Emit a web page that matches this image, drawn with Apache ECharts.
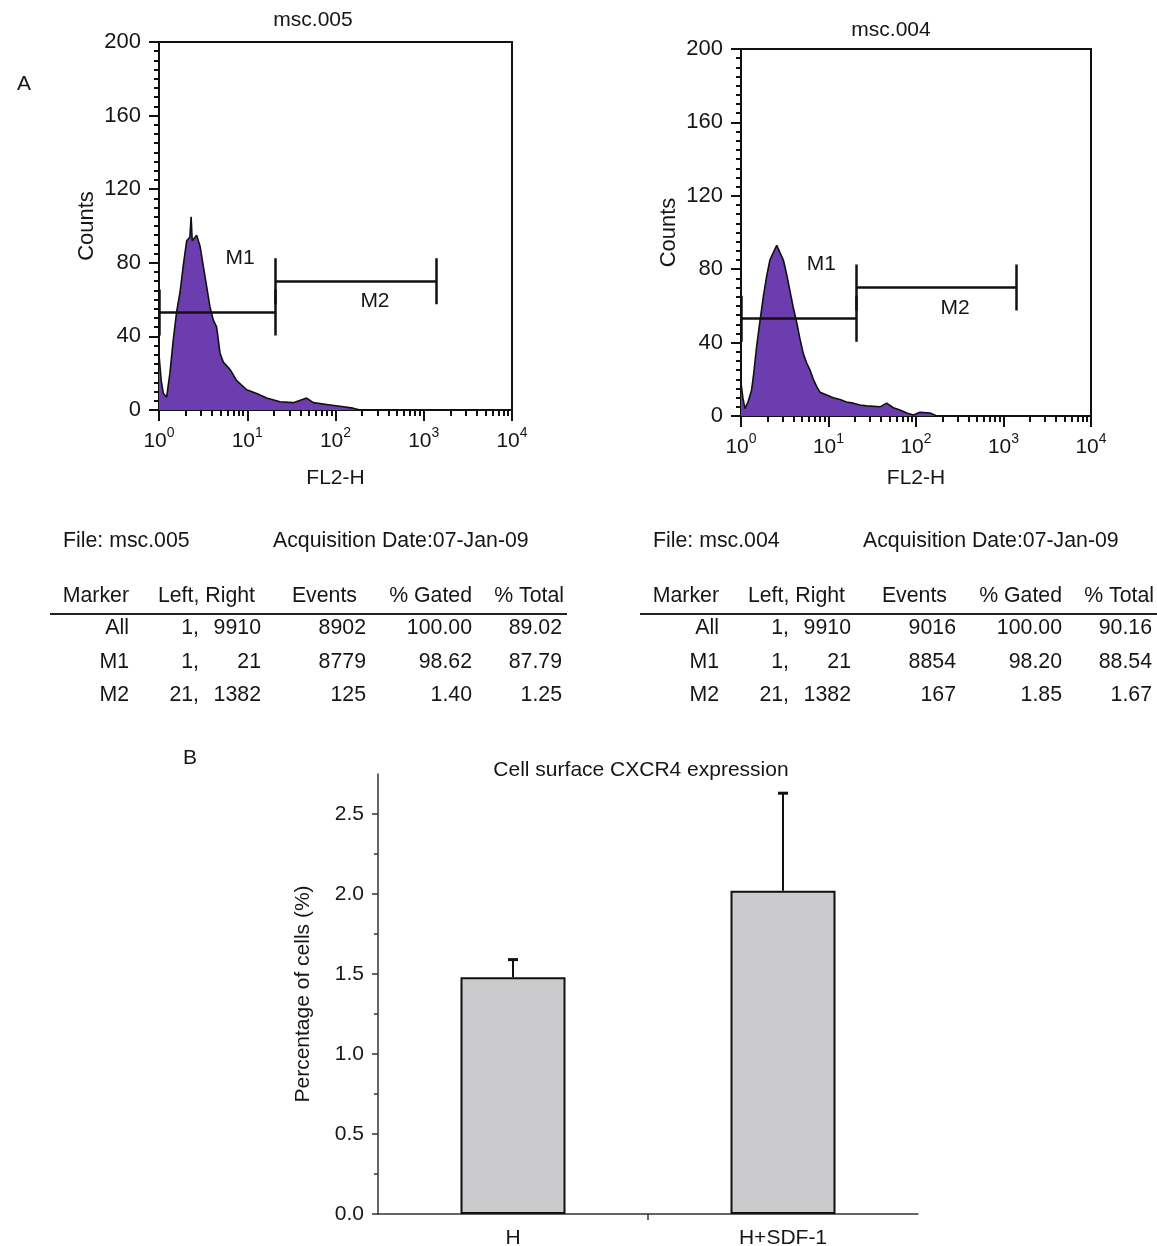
<!DOCTYPE html>
<html><head><meta charset="utf-8">
<script src="https://cdn.jsdelivr.net/npm/echarts@6/dist/echarts.min.js"></script>
<style>html,body{margin:0;padding:0;background:#fff}#c{width:1157px;height:1246px}</style>
</head><body><div id="c"></div>
<script>
// ---------- DATA ----------
// Histogram msc.005 (FL2-H channel, counts)
const fl2A    = [1.00,1.06,1.12,1.22,1.33,1.45,1.58,1.73,1.89,2.06,2.24,2.31,2.38,2.45,2.67,2.92,3.18,3.47,3.78,4.12,4.50,4.91,5.36,6.38,7.59,9.86,12.8,16.6,23.5,33.3,47.1,56.1,79.4,112,158,191];
const countsA = [30,16,9,7,20,38,53,64,79,92,94,105,92,93,95,89,78,67,56,49,45,31,26,22,16,11,9,6.5,4.5,4,6.5,4,3,2,1,0];
// Histogram msc.004
const fl2B    = [1.00,1.05,1.11,1.21,1.32,1.38,1.51,1.65,1.80,1.96,2.14,2.34,2.56,2.79,3.05,3.33,3.63,3.96,4.33,4.72,5.15,5.62,6.15,6.71,7.33,8.0,9.53,11.35,13.5,16.1,19.2,22.9,27.3,38.8,46.2,55.1,65.6,78.3,93.3,111,145,173];
const countsB = [18,10,4,8,14,21,38,52,65,76,85,89,93,89,85,77,68,59,51,42,34,29,25,20,16,13,11.4,10,9,7.6,7,6,5.5,5,7,4.5,3.3,1.6,0.5,2,1.6,0];
// Markers (gates)
const markerNames  = ['M1','M2'];
const markerLeft   = [1, 21];
const markerRight  = [21, 1382];
const markerLevel  = [53, 70];
const markerHalf   = 12.5;
const markerLabelX = [8.3, 280];
const markerLabelY = [82.5, 59];
// Axis ticks
const countTicks = [0,40,80,120,160,200];
const fl2Ticks   = [1,10,100,1000,10000];
const fl2Minor   = [2,3,4,5,6,7,8,9,20,30,40,50,60,70,80,90,200,300,400,500,600,700,800,900,2000,3000,4000,5000,6000,7000,8000,9000];
// Tables
const panelTitles  = ['msc.005','msc.004'];
const acqDate      = '07-Jan-09';
const tableHeader  = ['Marker','Left, Right','Events','% Gated','% Total'];
const tableMarkers = ['All','M1','M2'];
const tableLeft    = [1,1,21];
const tableRight   = [9910,21,1382];
const eventsA = [8902,8779,125], gatedA = ['100.00','98.62','1.40'], totalA = ['89.02','87.79','1.25'];
const eventsB = [9016,8854,167], gatedB = ['100.00','98.20','1.85'], totalB = ['90.16','88.54','1.67'];
// Bar chart
const barCategories = ['H','H+SDF-1'];
const barValues     = [1.48, 2.02];
const barErrors     = [0.11, 0.61];
const barTicks      = [0,0.5,1,1.5,2,2.5];
const barMinorTicks = [0.25,0.75,1.25,1.75,2.25];

// ---------- CHART ----------
const FF = 'Liberation Sans, Arial, sans-serif';
const TXT = '#161616';
const PURPLE = '#6c3dae';

function histXAxes(grid){
  return [{
    type:'log', logBase:10, gridIndex:grid, min:1, max:10000, position:'bottom',
    name:'FL2-H', nameLocation:'middle', nameGap: grid===0?58:52,
    nameTextStyle:{fontFamily:FF,fontSize:21,color:TXT},
    axisLine:{show:true,lineStyle:{color:'#111',width:2}},
    axisTick:{show:true,inside:false,length:11,lineStyle:{color:'#111',width:2},customValues:fl2Ticks},
    axisLabel:{show:true,margin:16,customValues:fl2Ticks,
      formatter:v=>'{b|10}{s|'+Math.round(Math.log10(v))+'}',
      rich:{b:{fontFamily:FF,fontSize:21,color:TXT,lineHeight:26,verticalAlign:'bottom'},
            s:{fontFamily:FF,fontSize:14,color:TXT,lineHeight:18,verticalAlign:'top'}}},
    splitLine:{show:false}, minorTick:{show:false}
  },{
    type:'log', logBase:10, gridIndex:grid, min:1, max:10000, position:'bottom',
    axisLine:{show:false}, axisLabel:{show:false}, splitLine:{show:false},
    axisTick:{show:true,inside:false,length:6,lineStyle:{color:'#111',width:2},customValues:fl2Minor}
  }];
}
function histYAxis(grid){
  return {
    type:'value', gridIndex:grid, min:0, max:200, interval:40,
    name:'Counts', nameLocation:'middle', nameGap:61, nameRotate:90,
    nameTextStyle:{fontFamily:FF,fontSize:22,color:TXT},
    axisLine:{show:true,lineStyle:{color:'#111',width:2}},
    axisTick:{show:true,inside:false,length:10,lineStyle:{color:'#111',width:2}},
    minorTick:{show:true,splitNumber:8,length:5,lineStyle:{color:'#111',width:2}},
    axisLabel:{fontFamily:FF,fontSize:22,color:TXT,margin:18},
    splitLine:{show:false}
  };
}
function markerLines(){
  const d=[];
  for(let k=0;k<markerNames.length;k++){
    const L=markerLeft[k],R=markerRight[k],h=markerLevel[k];
    d.push({coords:[[L,h],[R,h]]});
    d.push({coords:[[L,h-markerHalf],[L,h+markerHalf]]});
    d.push({coords:[[R,h-markerHalf],[R,h+markerHalf]]});
  }
  return d;
}
function histSeries(xi,yi,fl2,counts){
  return [{
    type:'line', xAxisIndex:xi, yAxisIndex:yi, data:fl2.map((x,i)=>[x,counts[i]]),
    showSymbol:false, symbol:'none', lineStyle:{color:'#111',width:1.6},
    areaStyle:{color:PURPLE,opacity:1}, silent:true, z:2
  },{
    type:'lines', coordinateSystem:'cartesian2d', xAxisIndex:xi, yAxisIndex:yi,
    data:markerLines(), lineStyle:{color:'#111',width:2.5,opacity:1}, silent:true, z:3
  },{
    type:'scatter', xAxisIndex:xi, yAxisIndex:yi, symbolSize:1, itemStyle:{opacity:0},
    data:markerNames.map((n,k)=>[markerLabelX[k],markerLabelY[k],n]),
    label:{show:true,position:'inside',formatter:p=>p.data[2],fontFamily:FF,fontSize:21,
      color:TXT,opacity:1,textBorderWidth:0},
    silent:true, z:4
  }];
}

// graphic texts
const graphics=[];
function txt(x,y,s,align,size){
  graphics.push({type:'text',x:x,y:y,silent:true,style:{text:String(s),fill:TXT,
    font:(size||21)+'px '+FF,textAlign:align||'left',align:align||'left',
    textVerticalAlign:'middle',verticalAlign:'middle'}});
}
txt(17,84,'A','left',21);
txt(183,758,'B','left',21);
txt(313,20,panelTitles[0],'center',21);
txt(891,30,panelTitles[1],'center',21);

const TF = 21.3;
function table(off,file,events,gated,total){
  txt(63+off,541,'File: '+file,'left',TF);
  txt(273+off,541,'Acquisition Date:'+acqDate,'left',TF);
  const hx=[129,255,357,472,564];
  tableHeader.forEach((h,i)=>txt(hx[i]+off,596,h,'right',TF));
  graphics.push({type:'line',silent:true,shape:{x1:50+off,y1:614,x2:567+off,y2:614},style:{stroke:'#222',lineWidth:2}});
  const ry=[628,662,695];
  tableMarkers.forEach((m,r)=>{
    txt(129+off,ry[r],m,'right',TF);
    txt(199+off,ry[r],tableLeft[r]+',','right',TF);
    txt(261+off,ry[r],tableRight[r],'right',TF);
    txt(366+off,ry[r],events[r],'right',TF);
    txt(472+off,ry[r],gated[r],'right',TF);
    txt(562+off,ry[r],total[r],'right',TF);
  });
}
table(0,panelTitles[0],eventsA,gatedA,totalA);
table(590,panelTitles[1],eventsB,gatedB,totalB);

const chart = echarts.init(document.getElementById('c'),null,{renderer:'canvas'});
const xA = histXAxes(0), xB = histXAxes(1);
chart.setOption({
  animation:false,
  backgroundColor:'#fff',
  textStyle:{fontFamily:FF},
  title:{text:'Cell surface CXCR4 expression',left:636,top:755,textAlign:'center',
    textStyle:{fontFamily:FF,fontSize:21,fontWeight:'normal',color:TXT}},
  grid:[
    {left:159,top:42,width:353,height:368,show:true,borderColor:'#111',borderWidth:2,containLabel:false,outerBoundsMode:'none'},
    {left:741,top:49,width:350,height:367,show:true,borderColor:'#111',borderWidth:2,containLabel:false,outerBoundsMode:'none'},
    {left:378,top:774,width:540,height:440,show:false,containLabel:false,outerBoundsMode:'none'}
  ],
  xAxis:[xA[0],xA[1],xB[0],xB[1],
    {type:'category',gridIndex:2,data:barCategories,boundaryGap:true,
     axisLine:{lineStyle:{color:'#333',width:1.5}},
     axisTick:{alignWithLabel:true,length:6,lineStyle:{color:'#333',width:1.5}},
     axisLabel:{fontFamily:FF,fontSize:21,color:TXT,margin:14}},
    {type:'value',gridIndex:2,min:0,max:2,position:'bottom',
     axisLine:{show:false},axisLabel:{show:false},splitLine:{show:false},
     axisTick:{show:true,length:6,customValues:[1],lineStyle:{color:'#333',width:1.5}}}
  ],
  yAxis:[histYAxis(0),histYAxis(1),
    {type:'value',gridIndex:2,min:0,max:2.75,
     name:'Percentage of cells (%)',nameLocation:'middle',nameGap:64,nameRotate:90,
     nameTextStyle:{fontFamily:FF,fontSize:21,color:TXT},
     axisLine:{show:true,lineStyle:{color:'#333',width:1.5}},
     axisTick:{show:true,length:6,customValues:barTicks,lineStyle:{color:'#333',width:1.5}},
     axisLabel:{fontFamily:FF,fontSize:21,color:TXT,margin:14,customValues:barTicks,formatter:v=>v.toFixed(1)},
     splitLine:{show:false}},
    {type:'value',gridIndex:2,min:0,max:2.75,position:'left',
     axisLine:{show:false},axisLabel:{show:false},splitLine:{show:false},
     axisTick:{show:true,length:4,customValues:barMinorTicks,lineStyle:{color:'#333',width:1.5}}}
  ],
  series:[
    ...histSeries(0,0,fl2A,countsA),
    ...histSeries(2,1,fl2B,countsB),
    {type:'bar',xAxisIndex:4,yAxisIndex:2,data:barValues,barWidth:105,
     itemStyle:{color:'#cbcbcd',borderColor:'#111',borderWidth:2},silent:true,z:2},
    {type:'custom',xAxisIndex:4,yAxisIndex:2,silent:true,z:3,
     data:barCategories.map((c,i)=>[i,barValues[i],barErrors[i]]),
     encode:{x:0,y:1},
     renderItem:(params,api)=>{
       const i=api.value(0),v=api.value(1),e=api.value(2);
       const b=api.coord([i,v]),t=api.coord([i,v+e]);
       return {type:'group',children:[
         {type:'line',shape:{x1:b[0],y1:b[1],x2:t[0],y2:t[1]},style:{stroke:'#111',lineWidth:2}},
         {type:'line',shape:{x1:t[0]-5,y1:t[1],x2:t[0]+5,y2:t[1]},style:{stroke:'#111',lineWidth:3}}
       ]};
     }}
  ],
  graphic:graphics
});
</script></body></html>
